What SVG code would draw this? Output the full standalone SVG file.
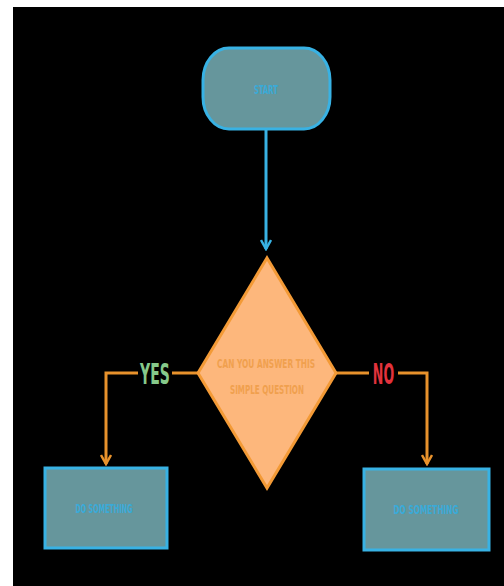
<svg xmlns="http://www.w3.org/2000/svg" width="504" height="586" viewBox="0 0 504 586">
<style>
.term{fill:#66969c;stroke:#38b2e4;stroke-width:3}
.dec{fill:#fdb77c;stroke:#f39a36;stroke-width:3}
.blab{font-family:"DejaVu Sans",sans-serif;font-weight:bold;fill:#3aaad8}
.qlab{font-family:"DejaVu Sans",sans-serif;font-weight:bold;font-size:13px;fill:#f0a04e}
.edge{fill:none;stroke:#e8922c;stroke-width:3}
.edgeb{fill:none;stroke:#38b2e4;stroke-width:3}
.yes{font-family:"DejaVu Sans",sans-serif;font-weight:bold;font-size:28px;fill:#86c98a}
.no{font-family:"DejaVu Sans",sans-serif;font-weight:bold;font-size:28px;fill:#e2323c}
</style>
<defs>
<marker id="ab" viewBox="0 0 12 12" refX="10" refY="6" markerWidth="12" markerHeight="12" markerUnits="userSpaceOnUse" orient="auto">
<path d="M1,1 L10,6 L1,11" fill="none" stroke="#38b2e4" stroke-width="2.5"/>
</marker>
<marker id="ao" viewBox="0 0 12 12" refX="10" refY="6" markerWidth="12" markerHeight="12" markerUnits="userSpaceOnUse" orient="auto">
<path d="M1,1 L10,6 L1,11" fill="none" stroke="#e8922c" stroke-width="2.5"/>
</marker>
</defs>
<rect x="0" y="0" width="504" height="586" fill="#ffffff"/>
<rect x="13" y="7" width="491" height="579" fill="#000000"/>
<g id="connectors">
<path class="edgeb" d="M266,129 L266,249" marker-end="url(#ab)"/>
<path class="edge" d="M198,373 L172,373"/>
<path class="edge" d="M138,373 L106,373 L106,464" marker-end="url(#ao)"/>
<path class="edge" d="M336,373 L369,373"/>
<path class="edge" d="M398,373 L427,373 L427,464" marker-end="url(#ao)"/>
<text class="yes" transform="translate(155,384) scale(0.5,1)" text-anchor="middle">YES</text>
<text class="no" transform="translate(383.5,384) scale(0.45,1)" text-anchor="middle">NO</text>
</g>
<g id="start">
<rect class="term" x="203" y="48" width="127" height="81" rx="26" ry="32"/>
<text class="blab" x="266" y="94" font-size="13" text-anchor="middle" textLength="24" lengthAdjust="spacingAndGlyphs">START</text>
</g>
<g id="question">
<polygon class="dec" points="267,258 336,373 267,488 198,373"/>
<text class="qlab" x="266" y="368" text-anchor="middle" textLength="98" lengthAdjust="spacingAndGlyphs">CAN YOU ANSWER THIS</text>
<text class="qlab" x="267" y="394" text-anchor="middle" textLength="74" lengthAdjust="spacingAndGlyphs">SIMPLE QUESTION</text>
</g>
<g id="yes-box">
<rect class="term" x="45" y="468" width="122" height="80"/>
<text class="blab" x="104" y="513" font-size="12" text-anchor="middle" textLength="57" lengthAdjust="spacingAndGlyphs">DO SOMETHING</text>
</g>
<g id="no-box">
<rect class="term" x="364" y="469" width="125" height="81"/>
<text class="blab" x="426" y="514" font-size="12" text-anchor="middle" textLength="65" lengthAdjust="spacingAndGlyphs">DO SOMETHING</text>
</g>
</svg>
